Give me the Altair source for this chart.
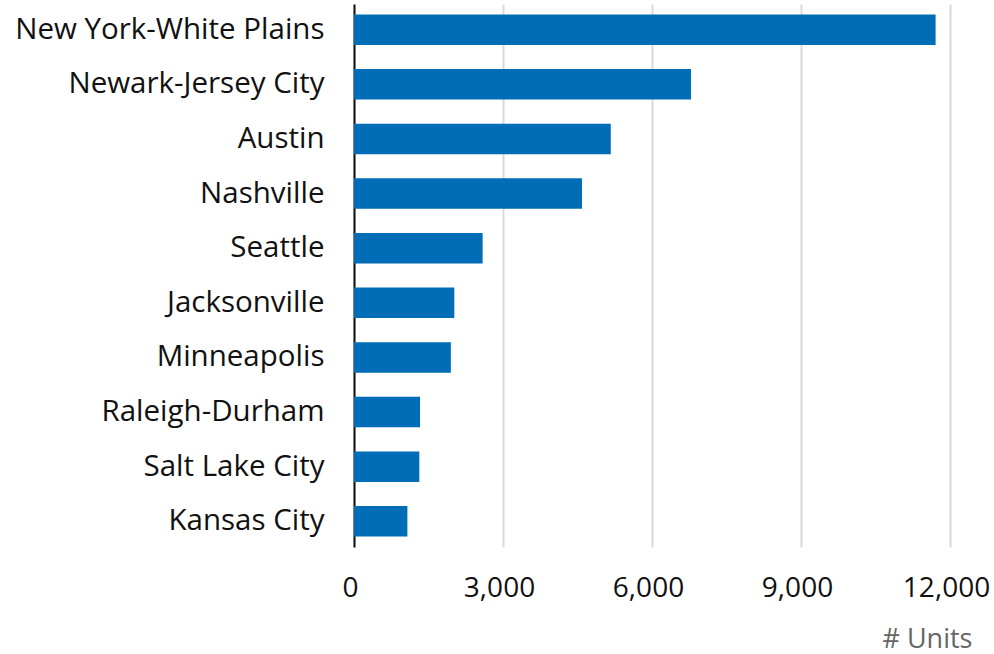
import altair as alt
import pandas as pd

metros = ["New York-White Plains", "Newark-Jersey City", "Austin", "Nashville", "Seattle",
          "Jacksonville", "Minneapolis", "Raleigh-Durham", "Salt Lake City", "Kansas City"]
units = [11710, 6785, 5170, 4590, 2590, 2020, 1950, 1330, 1315, 1075]

df = pd.DataFrame({"metro": metros, "units": units})

FONT = "Open Sans"

bars = alt.Chart(df).mark_bar(color="#006db6").encode(
    x=alt.X("units:Q",
            scale=alt.Scale(domain=[0, 12000], nice=False),
            axis=alt.Axis(values=[0, 3000, 6000, 9000, 12000], format=",d",
                          title="# Units", titleFont=FONT, titleFontSize=27,
                          titleFontWeight="normal", titleColor="#666666",
                          titleAlign="right", titleAnchor="end", titleX=618, titleY=100,
                          titleBaseline="alphabetic",
                          labelFont=FONT, labelFontSize=28, labelColor="#111111",
                          labelPadding=27, labelOffset=-4, labelFlush=False,
                          ticks=False, domain=False,
                          grid=True, gridColor="#d9d9d9", gridWidth=2)),
    y=alt.Y("metro:N", sort=metros,
            scale=alt.Scale(paddingInner=0.441, paddingOuter=0.19),
            axis=alt.Axis(title=None, labelFont=FONT, labelFontSize=29.5,
                          labelColor="#111111", labelPadding=30, ticks=False,
                          domain=True, domainColor="#111111", domainWidth=2,
                          grid=False, labelLimit=400)),
).properties(
    width=596, height=543,
    autosize=alt.AutoSizeParams(type="none"),
    padding={"left": 354, "top": 4, "right": 44, "bottom": 107},
).configure_view(stroke=None)

chart = bars
chart.save("out.html", embed_options={"renderer": "svg", "actions": False})
